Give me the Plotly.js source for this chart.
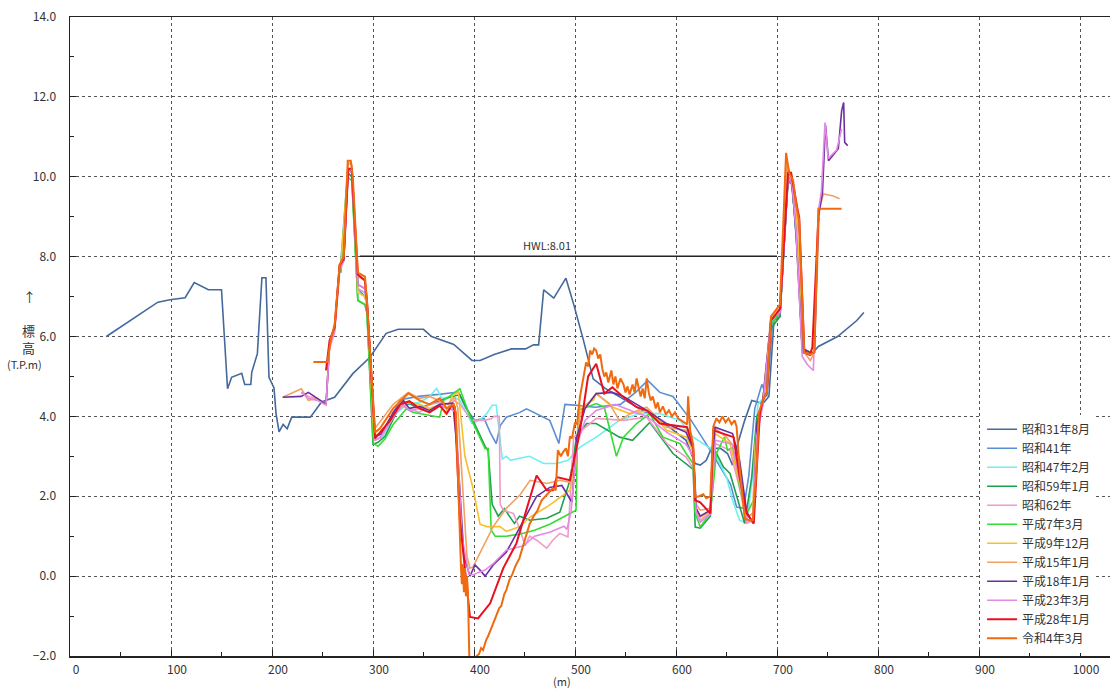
<!DOCTYPE html>
<html>
<head>
<meta charset="utf-8">
<script src="https://cdn.plot.ly/plotly-3.0.1.min.js"></script>
<style>html,body{margin:0;padding:0;background:#fff;}#chart{width:1111px;height:689px;}</style>
</head>
<body>
<div id="chart"></div>
<script>
// Series names (legend order)
const seriesNames = ["昭和31年8月","昭和41年","昭和47年2月","昭和59年1月","昭和62年","平成7年3月","平成9年12月","平成15年1月","平成18年1月","平成23年3月","平成28年1月","令和4年3月"];
const seriesColors = ["#44699c","#5b8fd4","#70eef0","#1fa050","#f29ac8","#33dd33","#f5c030","#f4a060","#6a2fa0","#e688e6","#e81020","#f06a10"];

// 昭和31年8月
const x_s31 = [36,87,99,114,123,137,150,156,160,170,173,179,180,185.5,190,194,197,202,204,207,211,215,219.5,238,249,262,280,297,313,325,350,358,380,398,406,420,437,451,459,464,469,479,491,499,508,518,530,550,570,590,610,619,624,630,635,644,651,656,661,668,675,686,692,697,703,710,714,718,721,725,733,741,760,779,786];
const y_s31 = [6.0,6.86,6.92,6.97,7.35,7.17,7.17,4.69,4.98,5.08,4.8,4.8,5.11,5.57,7.47,7.47,4.98,4.71,4.07,3.61,3.8,3.69,3.98,3.98,4.36,4.48,5.07,5.48,6.08,6.18,6.18,6.0,5.8,5.4,5.4,5.55,5.69,5.69,5.79,5.79,7.17,6.96,7.46,6.78,5.94,4.94,4.7,4.4,4.1,3.8,3.4,2.82,2.78,2.9,3.2,3.2,3.07,2.78,3.3,3.9,4.4,4.32,4.5,6.4,6.5,9.8,9.9,9.0,8.0,5.6,5.53,5.75,6.0,6.4,6.6];

// 昭和41年
const x_s41 = [268,275,279,285,292,294,301,310,327,345,365,384.5,392,401,410,416,422,426,432,445.5,452,475,484,490,505,520,545,560,572,584,597,615,634,654,660,667,672,678,685,690,696,703,711,715,720,725,733];
const y_s41 = [7.8,10.1,10.0,7.2,7.0,6.8,3.5,3.6,4.42,4.5,4.55,4.61,4.2,3.9,3.95,3.6,3.32,3.77,3.98,4.1,4.19,3.9,3.32,4.3,4.27,4.23,4.3,4.6,4.9,4.6,4.5,3.9,3.15,2.3,1.73,1.7,2.5,4.2,4.8,4.5,6.4,6.6,9.9,9.8,8.5,5.7,5.6];

// 昭和47年2月
const x_s47 = [268,275,279,285,292,294,301,310,320,333,346,356,363,368,378,386,398,405,412,418,422,428,432,436,445,455,469,482,493,505,521,544,564,584,604,617,637,650,656,663,670,676,681,688,695,703,711,715,720,725,733];
const y_s47 = [7.8,10.2,10.1,7.2,7.1,6.8,3.4,3.5,4.0,4.3,4.35,4.5,4.7,4.45,4.5,4.4,3.82,3.9,4.05,4.28,4.28,2.93,3.0,2.9,2.95,3.0,2.82,2.82,2.9,3.23,3.48,3.9,4.07,4.07,3.9,3.48,3.15,2.48,1.9,1.4,1.32,2.5,4.3,4.5,6.4,6.6,10.1,9.9,8.6,5.7,5.6];

// 昭和59年1月
const x_s59 = [268,275,279,285,292,294,300,305,312,325,336,345,356,366,378,386,399,411,414,418,424,430,440,445,455.5,472,485,495,501.6,511.5,521,544,557,574,597,617,619,624,634,638.6,647,653.5,663,668,675,680,686,694,697,703,711,715,720,725,733];
const y_s59 = [7.6,10.1,10.0,6.9,6.8,6.6,3.3,3.35,3.5,4.2,4.32,4.2,4.3,4.4,4.5,4.54,3.9,3.25,3.14,1.8,1.5,1.69,1.32,1.5,1.4,1.45,1.6,2.4,3.5,3.82,3.82,3.48,3.4,3.85,3.07,2.67,1.23,1.2,1.5,3.15,2.73,2.57,1.73,1.32,2.48,4.0,4.3,6.2,6.3,6.5,10.0,9.8,8.2,5.7,5.6];

// 昭和62年
const x_s62 = [229,236,245,253.5,257,262,267,271,275.5,279,285,292,294,301,307,317,327,336,346,356,366,374,380,386,398,410,417,420,425,426,429,439,445,450.6,455,462,472,478,485,493,498.6,521,548,571,591,610,617,619,624,634,638.6,653.5,663,670,676,678,686,694,697,703,711,715,720,725,733];
const y_s62 = [4.6,4.5,4.45,4.3,5.7,6.1,7.6,7.9,10.2,10.1,7.2,7.1,6.9,3.4,3.45,3.85,4.25,4.2,4.1,4.3,4.35,4.15,4.4,4.3,3.9,3.9,3.94,4.0,4.0,1.8,1.65,1.57,1.2,0.76,1.0,0.9,0.7,0.9,1.07,0.98,3.48,3.95,3.9,3.98,3.32,2.98,2.7,1.73,1.4,1.6,3.32,3.15,2.2,1.32,1.4,3.23,4.3,6.3,6.4,6.6,10.0,9.9,8.5,5.7,5.6];

// 平成7年3月
const x_h7 = [268,275,279,285,292,294,300.3,305,312,320,333,340,346,366,370,386,396,406,411,414,417,421,432,445,460,475,490,501,503,511,521,529,541,548,561,574,587,604,610,617,619,624,630,634,640,648,651,656,663,670,677,679,686,694,697,703,711,715,720,725,733];
const y_h7 = [7.6,10.0,9.9,6.9,6.8,6.6,3.32,3.25,3.44,3.8,4.19,4.1,4.07,3.98,4.4,4.69,4.0,3.48,3.19,3.2,1.15,1.0,1.0,1.05,1.15,1.3,1.5,1.65,4.15,4.23,4.32,4.23,3.0,3.48,3.82,4.07,3.48,3.32,3.07,2.82,1.57,1.23,1.44,1.57,3.07,3.48,3.15,3.23,2.23,1.57,1.9,3.57,4.4,6.3,6.4,6.6,10.0,9.8,8.3,5.7,5.6];

// 平成9年12月
const x_h9 = [268,275,279,285,292,294,301,308,320,335,346,356,366,372,378,384.5,391,399,406,412.5,425.7,432,445.5,455.5,472,495,500,505,518,521,537.6,554,574,590.7,610.6,617,620,624,634,638.6,653.5,663,670,676,679,686,694,697,703,711,715,720,725,733];
const y_h9 = [7.7,10.2,10.1,7.1,7.0,6.8,3.5,3.6,4.05,4.35,4.3,4.2,4.3,4.05,4.5,4.61,3.0,2.2,1.3,1.24,1.24,1.12,1.24,1.48,1.73,2.15,2.6,4.23,4.4,4.57,4.23,4.07,4.15,3.65,3.48,3.1,1.6,1.48,1.6,3.57,3.32,2.32,1.48,1.55,3.5,4.4,6.4,6.5,6.6,10.2,10.0,8.8,5.7,5.6];

// 平成15年1月
const x_h15 = [210.6,229,236,245,253.5,257,262,267,271,275.5,279,285,292,294,302,308,320,335,346,356,366,374,381,384,393,396,399,419,432,445.5,455.5,472,485,495,500,505,521,534,544,557,571,590.7,610.6,617,620,624,634,637,650,660,666.6,672,677,680,686,694,697,703,710,714,719,722,727,733,737,742,746,755.7,762];
const y_h15 = [4.48,4.69,4.4,4.45,4.3,5.8,6.25,7.8,8.0,10.35,10.3,7.5,7.4,6.9,3.7,3.9,4.3,4.6,4.45,4.5,4.4,4.3,4.48,4.2,0.5,0.2,0.23,1.24,1.7,2.03,2.4,2.32,2.4,2.35,2.7,4.07,4.57,4.32,3.9,4.1,4.23,3.73,3.65,3.2,1.8,1.65,1.7,3.73,3.48,3.15,1.9,1.5,1.6,3.6,4.4,6.5,6.6,6.8,10.3,10.0,9.2,8.6,5.6,5.4,5.6,9.2,9.57,9.52,9.45];

// 平成18年1月
const x_h18 = [210.6,229,236,245,253.5,257,262,267,271,275.5,279,285,292,294,302,308,320,330,336,346,356,366,379,384,390,396,401,406,411,419,432,445,462,475,487,497,502,510,521,537,548,571,590.7,610,617,620,624,634,638.6,656,663,670,676.6,680,686,694,697,703,711,715,719,725,733,737,741,745,748,751,760.7,764,766,767,770];
const y_h18 = [4.48,4.5,4.6,4.45,4.3,5.8,6.2,7.8,7.9,10.2,10.1,7.3,7.2,6.9,3.5,3.55,4.1,4.4,4.2,4.25,4.15,4.3,4.33,3.0,0.5,0.0,0.28,0.15,0.0,0.28,0.6,1.2,2.0,2.22,2.27,1.85,3.5,4.2,4.57,4.6,4.5,4.15,3.82,3.6,3.2,1.7,1.5,1.65,3.73,3.57,2.9,1.6,1.32,3.8,4.4,6.4,6.5,6.6,10.0,9.8,8.5,5.7,5.6,5.6,9.0,9.6,11.3,10.4,10.7,11.65,11.86,10.86,10.78];

// 平成23年3月
const x_h23 = [229,236,245,253.5,257,262,267,271,275.5,279,285,292,294,302,308,320,330,336,346,356,366,376,382,388,395,399,405,411,419,432,449,460,475,489,492,496,502,510,521,540,560,571,591,610,617,620,624,634,639,656,663,670,676,680,686,694,697,703,711,715,719,725,730,736,741,744,747.5,750.7,759,764];
const y_h23 = [4.6,4.45,4.4,4.28,5.8,6.15,7.7,7.9,10.2,10.1,7.3,7.2,6.9,3.4,3.5,4.0,4.3,4.15,4.2,4.1,4.25,4.2,4.1,1.0,0.05,0.03,0.1,0.15,0.31,0.65,0.76,1.0,1.1,1.25,1.17,1.6,3.3,3.9,4.15,4.3,4.1,4.0,3.6,3.3,3.0,1.6,1.35,1.55,3.4,3.3,2.4,1.4,1.35,3.5,4.3,6.4,6.5,6.6,10.0,9.8,8.6,5.5,5.3,5.15,9.15,9.65,11.36,10.46,10.67,11.2];

// 平成28年1月
const x_h28 = [253.5,257,262,267,271,275.5,279,285,292,294,302,307,317,327,336,346,356,366,373,378,381,386,393,396,404,416,429,442,462,472,478,482,495,505,513,521,529,537,548,561,571,584,611,617,619,624,634,637,657,663,670,677,683,686,690,694,697,703,711,714,720,722,727,730,733,735,741];
const y_h28 = [5.15,5.9,6.23,7.78,7.94,10.2,10.2,7.55,7.4,6.9,3.45,3.6,3.9,4.3,4.38,4.2,4.1,4.27,4.07,4.27,4.23,1.4,-0.18,-1.02,-1.06,-0.68,0.2,0.82,2.52,2.15,2.15,2.48,2.4,3.65,5.0,5.32,4.57,4.73,4.48,4.23,4.15,3.82,3.73,3.23,1.9,1.85,1.57,3.65,3.48,2.48,1.57,1.32,4.07,4.4,4.6,6.4,6.5,6.7,10.1,10.1,9.23,8.98,5.65,5.57,5.57,5.73,8.98];

// 令和4年3月
const x_r4 = [241,255,258,262,267,271,275,278,280,285,292,294,302,307,320,335,346,356,366,373,380,382,387,388,389,390,391,392,393,394,396,402.6,405,407,409,412,414,417,419,422,425,427,430,432,435,438,441,445,449,452,455,459,463,467,471,475,478,481,483,486,488,491,493,495,497,500,502,505,508,511,513,515,517,519,521,523,525,527,529,531,533,536,538,540,542,545,548,550,552,554,557,559,561,563,565,567,569,571,573,575,577,580,582,584,587,590,593,596,599,602,605,608,611,612,614,617,619,623,627,630,634,637,640,643,646,649,652,655,658,660,663,668,672,676,680,682,686,690,694,697,703,709,712,716,719,722,727,733,737,741,764];
const y_r4 = [5.36,5.36,5.9,6.3,7.8,8.0,10.4,10.4,10.0,7.6,7.5,6.9,3.6,3.7,4.2,4.58,4.4,4.3,4.45,4.2,4.3,4.1,0.3,-0.2,0.3,-0.4,0.2,-0.5,0.0,-0.4,-2.8,-2.0,-1.95,-1.8,-1.85,-1.6,-1.5,-1.3,-1.2,-1.0,-0.8,-0.75,-0.45,-0.35,-0.1,0.05,0.25,0.45,0.8,1.1,1.3,1.5,1.65,1.9,2.0,2.1,2.2,2.15,3.15,3.0,3.1,3.2,3.0,3.5,3.45,3.85,3.8,4.5,4.9,5.35,5.25,5.65,5.55,5.7,5.65,5.45,5.55,5.2,5.0,5.1,4.85,5.15,4.8,5.0,4.7,4.95,4.8,4.6,4.75,4.55,4.8,4.6,4.95,4.7,4.5,4.7,4.45,4.95,4.6,4.4,4.5,4.2,4.35,4.1,4.25,4.05,4.15,4.0,4.1,3.95,3.9,3.85,3.8,4.5,3.65,3.3,1.98,2.0,2.05,1.95,2.0,3.75,3.95,3.85,4.0,3.85,3.95,3.8,3.9,3.75,2.7,1.45,1.4,1.4,2.8,4.1,4.4,4.6,6.5,6.6,6.8,10.6,10.1,9.9,9.3,8.9,5.6,5.55,5.6,9.2,9.2];

// HWL line
const hwlX = [287, 700];
const hwlY = [8.01, 8.01];
const hwlLabel = "HWL:8.01";

// Y-axis title lines
const yTitleLines = ["↑", "標", "高", "(T.P.m)"];
const xTitleText = "(m)";

const seriesX = [x_s31,x_s41,x_s47,x_s59,x_s62,x_h7,x_h9,x_h15,x_h18,x_h23,x_h28,x_r4];
const seriesY = [y_s31,y_s41,y_s47,y_s59,y_s62,y_h7,y_h9,y_h15,y_h18,y_h23,y_h28,y_r4];

const FONT = '"Noto Sans CJK JP", "Noto Sans", sans-serif';

const traces = [{
  x: hwlX, y: hwlY, mode: 'lines', showlegend: false, hoverinfo: 'skip',
  line: {color: '#222', width: 1.5}
}];
seriesNames.forEach((nm, i) => {
  traces.push({
    x: seriesX[i], y: seriesY[i], name: nm, mode: 'lines',
    line: {color: seriesColors[i], width: (i >= 10 ? 2 : 1.6)}
  });
});

// y-title line positions in paper coords
const yTitlePos = [[-0.0385, 0.562], [-0.0395, 0.510], [-0.0395, 0.483], [-0.0433, 0.457]];
const yTitleAnn = yTitleLines.map((t, i) => ({
  x: yTitlePos[i][0], y: yTitlePos[i][1], xref: 'paper', yref: 'paper', text: t,
  showarrow: false, xanchor: 'center', yanchor: 'middle',
  font: {family: '"Noto Sans CJK JP", sans-serif', size: (i === 3 ? 11 : 13), color: '#333'}
}));

const layout = {
  width: 1111, height: 689,
  margin: {l: 70, r: 1, t: 17, b: 33},
  paper_bgcolor: '#fff', plot_bgcolor: '#fff',
  font: {family: FONT, size: 12, color: '#333'},
  showlegend: true,
  legend: {
    x: 0.877, y: 0.005, xanchor: 'left', yanchor: 'bottom',
    bgcolor: '#fff', borderwidth: 0,
    font: {family: FONT, size: 12, color: '#333'},
    itemwidth: 30, tracegroupgap: 0
  },
  xaxis: {
    range: [0, 1029.7], dtick: 100, tick0: 0,
    showgrid: true, gridcolor: '#555', griddash: 'dot', gridwidth: 1,
    showline: true, linecolor: '#222', linewidth: 1.5, mirror: true,
    ticks: 'inside', ticklen: 6, tickcolor: '#222',
    minor: {dtick: 50, ticks: 'inside', ticklen: 4, tickcolor: '#222', showgrid: false},
    zeroline: false, ticklabelshift: 6, ticklabelstandoff: 2,
    tickfont: {family: FONT, size: 12, color: '#333'}
  },
  yaxis: {
    range: [-2, 14], dtick: 2, tick0: 0, tickformat: '.1f',
    showgrid: true, gridcolor: '#555', griddash: 'dot', gridwidth: 1,
    showline: true, linecolor: '#222', linewidth: 1.5,
    ticks: 'inside', ticklen: 6, tickcolor: '#222',
    minor: {dtick: 1, ticks: 'inside', ticklen: 4, tickcolor: '#222', showgrid: false},
    zeroline: false, ticklabelstandoff: 10,
    tickfont: {family: FONT, size: 12, color: '#333'}
  },
  annotations: [
    {x: (hwlX[0] + hwlX[1]) / 2 - 21, y: hwlY[0], xref: 'x', yref: 'y', text: hwlLabel,
     showarrow: false, yanchor: 'bottom', yshift: 1, font: {family: FONT, size: 11, color: '#333'}},
    {x: 0.473, y: -0.0385, xref: 'paper', yref: 'paper', text: xTitleText,
     showarrow: false, xanchor: 'center', yanchor: 'middle', font: {family: FONT, size: 11, color: '#333'}}
  ].concat(yTitleAnn)
};

Plotly.newPlot('chart', traces, layout, {displayModeBar: false, staticPlot: true});
</script>
</body>
</html>
